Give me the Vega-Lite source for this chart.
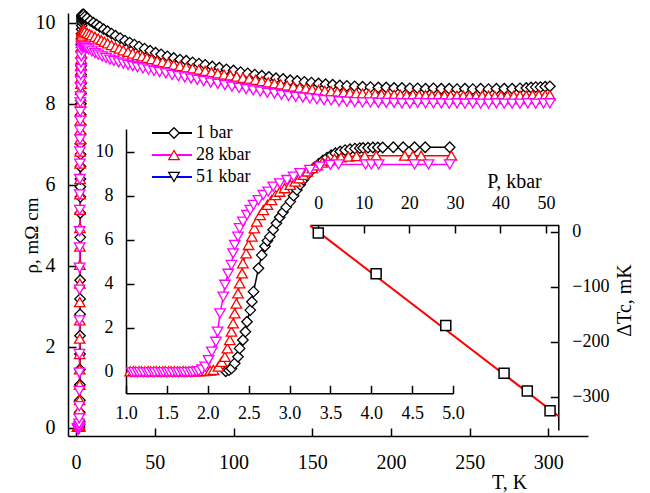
{
"$schema": "https://vega.github.io/schema/vega-lite/v6.json",
"width": 520, "height": 423,
"autosize": {"type": "none"},
"padding": {"left": 68, "top": 13, "right": 62, "bottom": 57},
"background": "white",
"config": {
 "view": {"stroke": null},
 "axis": {"grid": false, "domainColor": "black", "domainWidth": 1.5, "tickColor": "black", "tickWidth": 1.5, "labelFont": "Liberation Serif", "labelColor": "black", "labelFontSize": 18, "titleFont": "Liberation Serif", "titleColor": "black", "titleFontWeight": "normal", "titleFontSize": 20, "labelOverlap": false, "labelFlush": false},
 "legend": {"labelFont": "Liberation Serif", "labelFontSize": 18, "labelColor": "black", "padding": 0}
},
"datasets": {
 "rho": [
  {"s":"1 bar","T":2.22,"r":0.02},{"s":"1 bar","T":2.26,"r":0.07},{"s":"1 bar","T":2.29,"r":0.15},{"s":"1 bar","T":2.33,"r":0.38},{"s":"1 bar","T":2.37,"r":0.68},{"s":"1 bar","T":2.39,"r":1.06},{"s":"1 bar","T":2.43,"r":1.44},{"s":"1 bar","T":2.46,"r":1.82},{"s":"1 bar","T":2.48,"r":2.27},{"s":"1 bar","T":2.52,"r":2.8},{"s":"1 bar","T":2.54,"r":3.18},{"s":"1 bar","T":2.56,"r":3.64},{"s":"1 bar","T":2.62,"r":4.7},{"s":"1 bar","T":2.66,"r":5.3},{"s":"1 bar","T":2.7,"r":5.7},{"s":"1 bar","T":2.73,"r":5.95},{"s":"1 bar","T":2.76,"r":6.14},{"s":"1 bar","T":2.8,"r":6.45},{"s":"1 bar","T":2.84,"r":6.75},{"s":"1 bar","T":2.88,"r":7.02},{"s":"1 bar","T":2.92,"r":7.25},{"s":"1 bar","T":2.96,"r":7.48},{"s":"1 bar","T":3.01,"r":7.73},{"s":"1 bar","T":3.05,"r":8.0},{"s":"1 bar","T":3.09,"r":8.26},{"s":"1 bar","T":3.13,"r":8.5},{"s":"1 bar","T":3.17,"r":8.72},{"s":"1 bar","T":3.21,"r":8.93},{"s":"1 bar","T":3.26,"r":9.12},{"s":"1 bar","T":3.31,"r":9.3},{"s":"1 bar","T":3.36,"r":9.46},{"s":"1 bar","T":3.41,"r":9.6},{"s":"1 bar","T":3.46,"r":9.73},{"s":"1 bar","T":3.51,"r":9.84},{"s":"1 bar","T":3.56,"r":9.93},{"s":"1 bar","T":3.62,"r":10.01},{"s":"1 bar","T":3.68,"r":10.07},{"s":"1 bar","T":3.74,"r":10.11},{"s":"1 bar","T":3.8,"r":10.14},{"s":"1 bar","T":3.86,"r":10.16},{"s":"1 bar","T":3.9,"r":10.17},{"s":"1 bar","T":3.96,"r":10.18},{"s":"1 bar","T":4.02,"r":10.19},{"s":"1 bar","T":4.08,"r":10.19},{"s":"1 bar","T":4.14,"r":10.19},{"s":"1 bar","T":4.27,"r":10.2},{"s":"1 bar","T":4.39,"r":10.2},{"s":"1 bar","T":4.53,"r":10.2},{"s":"1 bar","T":4.66,"r":10.2},{"s":"1 bar","T":4.96,"r":10.2},
  {"s":"1 bar","T":5.5,"r":10.15},{"s":"1 bar","T":7,"r":10.11},{"s":"1 bar","T":9,"r":10.05},{"s":"1 bar","T":11,"r":10.0},{"s":"1 bar","T":13,"r":9.95},{"s":"1 bar","T":15,"r":9.9},{"s":"1 bar","T":17.5,"r":9.84},{"s":"1 bar","T":20,"r":9.79},{"s":"1 bar","T":22.5,"r":9.73},{"s":"1 bar","T":25,"r":9.68},{"s":"1 bar","T":28,"r":9.62},{"s":"1 bar","T":31,"r":9.56},{"s":"1 bar","T":34,"r":9.51},{"s":"1 bar","T":37,"r":9.46},{"s":"1 bar","T":40,"r":9.41},{"s":"1 bar","T":43.5,"r":9.36},{"s":"1 bar","T":47,"r":9.31},{"s":"1 bar","T":50.5,"r":9.26},{"s":"1 bar","T":54,"r":9.22},{"s":"1 bar","T":58,"r":9.17},{"s":"1 bar","T":62,"r":9.13},{"s":"1 bar","T":66,"r":9.09},{"s":"1 bar","T":70,"r":9.06},{"s":"1 bar","T":74,"r":9.02},{"s":"1 bar","T":78,"r":8.99},{"s":"1 bar","T":82,"r":8.96},{"s":"1 bar","T":86.5,"r":8.92},{"s":"1 bar","T":91,"r":8.89},{"s":"1 bar","T":95.5,"r":8.85},{"s":"1 bar","T":100,"r":8.82},{"s":"1 bar","T":104.5,"r":8.78},{"s":"1 bar","T":109,"r":8.75},{"s":"1 bar","T":113.5,"r":8.72},{"s":"1 bar","T":118,"r":8.69},{"s":"1 bar","T":122.5,"r":8.66},{"s":"1 bar","T":127,"r":8.63},{"s":"1 bar","T":131.5,"r":8.61},{"s":"1 bar","T":136,"r":8.58},{"s":"1 bar","T":140.5,"r":8.56},{"s":"1 bar","T":145,"r":8.54},{"s":"1 bar","T":149.5,"r":8.52},{"s":"1 bar","T":154,"r":8.5},{"s":"1 bar","T":158.5,"r":8.48},{"s":"1 bar","T":163,"r":8.47},{"s":"1 bar","T":167.5,"r":8.45},{"s":"1 bar","T":172,"r":8.44},{"s":"1 bar","T":177,"r":8.43},{"s":"1 bar","T":182,"r":8.42},{"s":"1 bar","T":187,"r":8.41},{"s":"1 bar","T":192,"r":8.4},{"s":"1 bar","T":197,"r":8.4},{"s":"1 bar","T":202,"r":8.39},{"s":"1 bar","T":207,"r":8.39},{"s":"1 bar","T":212,"r":8.38},{"s":"1 bar","T":217,"r":8.38},{"s":"1 bar","T":222,"r":8.37},{"s":"1 bar","T":227,"r":8.38},{"s":"1 bar","T":232,"r":8.37},{"s":"1 bar","T":237,"r":8.37},{"s":"1 bar","T":242,"r":8.36},{"s":"1 bar","T":247,"r":8.37},{"s":"1 bar","T":252,"r":8.36},{"s":"1 bar","T":257,"r":8.37},{"s":"1 bar","T":262,"r":8.36},{"s":"1 bar","T":267,"r":8.37},{"s":"1 bar","T":272,"r":8.37},{"s":"1 bar","T":277,"r":8.37},{"s":"1 bar","T":282,"r":8.38},{"s":"1 bar","T":286,"r":8.39},{"s":"1 bar","T":289,"r":8.4},{"s":"1 bar","T":292,"r":8.41},{"s":"1 bar","T":295,"r":8.41},{"s":"1 bar","T":298,"r":8.42},{"s":"1 bar","T":301,"r":8.43},
  {"s":"28 kbar","T":1.05,"r":0.02},{"s":"28 kbar","T":1.09,"r":0.03},{"s":"28 kbar","T":1.12,"r":0.02},{"s":"28 kbar","T":1.16,"r":0.03},{"s":"28 kbar","T":1.19,"r":0.02},{"s":"28 kbar","T":1.23,"r":0.02},{"s":"28 kbar","T":1.27,"r":0.03},{"s":"28 kbar","T":1.3,"r":0.02},{"s":"28 kbar","T":1.34,"r":0.02},{"s":"28 kbar","T":1.37,"r":0.03},{"s":"28 kbar","T":1.41,"r":0.02},{"s":"28 kbar","T":1.45,"r":0.02},{"s":"28 kbar","T":1.48,"r":0.03},{"s":"28 kbar","T":1.52,"r":0.02},{"s":"28 kbar","T":1.55,"r":0.02},{"s":"28 kbar","T":1.59,"r":0.03},{"s":"28 kbar","T":1.63,"r":0.02},{"s":"28 kbar","T":1.66,"r":0.02},{"s":"28 kbar","T":1.7,"r":0.03},{"s":"28 kbar","T":1.73,"r":0.02},{"s":"28 kbar","T":1.77,"r":0.02},{"s":"28 kbar","T":1.81,"r":0.03},{"s":"28 kbar","T":1.84,"r":0.02},{"s":"28 kbar","T":1.88,"r":0.02},{"s":"28 kbar","T":1.91,"r":0.03},{"s":"28 kbar","T":1.95,"r":0.03},{"s":"28 kbar","T":1.99,"r":0.04},{"s":"28 kbar","T":2.03,"r":0.05},
  {"s":"28 kbar","T":2.07,"r":0.08},{"s":"28 kbar","T":2.13,"r":0.23},{"s":"28 kbar","T":2.17,"r":0.45},{"s":"28 kbar","T":2.21,"r":0.68},{"s":"28 kbar","T":2.24,"r":1.06},{"s":"28 kbar","T":2.27,"r":1.44},{"s":"28 kbar","T":2.29,"r":1.82},{"s":"28 kbar","T":2.31,"r":2.2},{"s":"28 kbar","T":2.33,"r":2.65},{"s":"28 kbar","T":2.35,"r":3.1},{"s":"28 kbar","T":2.37,"r":3.56},{"s":"28 kbar","T":2.39,"r":4.02},{"s":"28 kbar","T":2.42,"r":4.47},{"s":"28 kbar","T":2.43,"r":4.93},{"s":"28 kbar","T":2.47,"r":5.38},{"s":"28 kbar","T":2.5,"r":5.76},{"s":"28 kbar","T":2.54,"r":6.14},{"s":"28 kbar","T":2.57,"r":6.52},{"s":"28 kbar","T":2.6,"r":6.82},{"s":"28 kbar","T":2.64,"r":7.12},{"s":"28 kbar","T":2.68,"r":7.35},{"s":"28 kbar","T":2.73,"r":7.58},{"s":"28 kbar","T":2.78,"r":7.8},{"s":"28 kbar","T":2.83,"r":8.03},{"s":"28 kbar","T":2.88,"r":8.18},{"s":"28 kbar","T":2.94,"r":8.34},{"s":"28 kbar","T":3.01,"r":8.49},{"s":"28 kbar","T":3.07,"r":8.64},{"s":"28 kbar","T":3.12,"r":8.79},{"s":"28 kbar","T":3.17,"r":8.95},{"s":"28 kbar","T":3.22,"r":9.1},{"s":"28 kbar","T":3.28,"r":9.25},{"s":"28 kbar","T":3.34,"r":9.38},{"s":"28 kbar","T":3.4,"r":9.5},{"s":"28 kbar","T":3.47,"r":9.6},{"s":"28 kbar","T":3.55,"r":9.68},{"s":"28 kbar","T":3.63,"r":9.74},{"s":"28 kbar","T":3.72,"r":9.78},{"s":"28 kbar","T":3.82,"r":9.8},{"s":"28 kbar","T":3.92,"r":9.81},{"s":"28 kbar","T":4.06,"r":9.82},{"s":"28 kbar","T":4.41,"r":9.82},{"s":"28 kbar","T":4.51,"r":9.82},{"s":"28 kbar","T":4.61,"r":9.82},{"s":"28 kbar","T":4.98,"r":9.82},
  {"s":"28 kbar","T":5.5,"r":9.78},{"s":"28 kbar","T":7,"r":9.75},{"s":"28 kbar","T":8.5,"r":9.72},{"s":"28 kbar","T":10,"r":9.69},{"s":"28 kbar","T":12,"r":9.65},{"s":"28 kbar","T":14,"r":9.61},{"s":"28 kbar","T":16,"r":9.57},{"s":"28 kbar","T":18,"r":9.53},{"s":"28 kbar","T":20,"r":9.49},{"s":"28 kbar","T":22.5,"r":9.45},{"s":"28 kbar","T":25,"r":9.4},{"s":"28 kbar","T":27.5,"r":9.36},{"s":"28 kbar","T":30,"r":9.32},{"s":"28 kbar","T":33,"r":9.28},{"s":"28 kbar","T":36,"r":9.24},{"s":"28 kbar","T":39,"r":9.2},{"s":"28 kbar","T":42,"r":9.17},{"s":"28 kbar","T":45,"r":9.13},{"s":"28 kbar","T":48,"r":9.1},{"s":"28 kbar","T":51.5,"r":9.06},{"s":"28 kbar","T":55,"r":9.03},{"s":"28 kbar","T":58.5,"r":9.0},{"s":"28 kbar","T":62,"r":8.96},{"s":"28 kbar","T":66,"r":8.93},{"s":"28 kbar","T":70,"r":8.9},{"s":"28 kbar","T":74,"r":8.87},{"s":"28 kbar","T":78,"r":8.84},{"s":"28 kbar","T":82,"r":8.81},{"s":"28 kbar","T":86,"r":8.78},{"s":"28 kbar","T":90,"r":8.75},{"s":"28 kbar","T":94,"r":8.72},{"s":"28 kbar","T":98,"r":8.7},{"s":"28 kbar","T":102,"r":8.67},{"s":"28 kbar","T":106,"r":8.64},{"s":"28 kbar","T":110,"r":8.62},{"s":"28 kbar","T":114,"r":8.59},{"s":"28 kbar","T":118,"r":8.56},{"s":"28 kbar","T":122,"r":8.53},{"s":"28 kbar","T":126,"r":8.5},{"s":"28 kbar","T":130,"r":8.48},{"s":"28 kbar","T":134,"r":8.45},{"s":"28 kbar","T":138,"r":8.42},{"s":"28 kbar","T":142,"r":8.4},{"s":"28 kbar","T":146,"r":8.38},{"s":"28 kbar","T":150,"r":8.36},{"s":"28 kbar","T":154,"r":8.34},{"s":"28 kbar","T":158,"r":8.32},{"s":"28 kbar","T":162,"r":8.31},{"s":"28 kbar","T":166,"r":8.29},{"s":"28 kbar","T":170,"r":8.28},{"s":"28 kbar","T":174,"r":8.27},{"s":"28 kbar","T":178,"r":8.26},{"s":"28 kbar","T":182,"r":8.25},{"s":"28 kbar","T":186,"r":8.24},{"s":"28 kbar","T":190,"r":8.24},{"s":"28 kbar","T":194,"r":8.23},{"s":"28 kbar","T":198,"r":8.23},{"s":"28 kbar","T":202,"r":8.22},{"s":"28 kbar","T":206,"r":8.22},{"s":"28 kbar","T":210,"r":8.21},{"s":"28 kbar","T":214,"r":8.22},{"s":"28 kbar","T":218,"r":8.21},{"s":"28 kbar","T":222,"r":8.21},{"s":"28 kbar","T":226,"r":8.2},{"s":"28 kbar","T":230,"r":8.21},{"s":"28 kbar","T":234,"r":8.2},{"s":"28 kbar","T":238,"r":8.2},{"s":"28 kbar","T":242,"r":8.2},{"s":"28 kbar","T":246,"r":8.2},{"s":"28 kbar","T":250,"r":8.2},{"s":"28 kbar","T":254,"r":8.19},{"s":"28 kbar","T":258,"r":8.2},{"s":"28 kbar","T":262,"r":8.2},{"s":"28 kbar","T":266,"r":8.19},{"s":"28 kbar","T":270,"r":8.2},{"s":"28 kbar","T":274,"r":8.2},{"s":"28 kbar","T":278,"r":8.2},{"s":"28 kbar","T":282,"r":8.2},{"s":"28 kbar","T":286,"r":8.2},{"s":"28 kbar","T":290,"r":8.21},{"s":"28 kbar","T":294,"r":8.21},{"s":"28 kbar","T":298,"r":8.21},{"s":"28 kbar","T":301,"r":8.21},
  {"s":"51 kbar","T":1.07,"r":-0.03},{"s":"51 kbar","T":1.1,"r":-0.02},{"s":"51 kbar","T":1.14,"r":-0.03},{"s":"51 kbar","T":1.17,"r":-0.02},{"s":"51 kbar","T":1.21,"r":-0.03},{"s":"51 kbar","T":1.25,"r":-0.02},{"s":"51 kbar","T":1.28,"r":-0.03},{"s":"51 kbar","T":1.32,"r":-0.02},{"s":"51 kbar","T":1.35,"r":-0.03},{"s":"51 kbar","T":1.39,"r":-0.02},{"s":"51 kbar","T":1.43,"r":-0.03},{"s":"51 kbar","T":1.46,"r":-0.02},{"s":"51 kbar","T":1.5,"r":-0.03},{"s":"51 kbar","T":1.53,"r":-0.02},{"s":"51 kbar","T":1.57,"r":-0.03},{"s":"51 kbar","T":1.61,"r":-0.02},{"s":"51 kbar","T":1.64,"r":-0.03},{"s":"51 kbar","T":1.68,"r":-0.02},{"s":"51 kbar","T":1.71,"r":-0.03},{"s":"51 kbar","T":1.75,"r":-0.02},{"s":"51 kbar","T":1.79,"r":-0.02},{"s":"51 kbar","T":1.82,"r":-0.01},{"s":"51 kbar","T":1.86,"r":0.0},{"s":"51 kbar","T":1.89,"r":0.03},
  {"s":"51 kbar","T":1.93,"r":0.1},{"s":"51 kbar","T":1.97,"r":0.23},{"s":"51 kbar","T":2.01,"r":0.53},{"s":"51 kbar","T":2.05,"r":0.91},{"s":"51 kbar","T":2.1,"r":1.36},{"s":"51 kbar","T":2.12,"r":1.82},{"s":"51 kbar","T":2.15,"r":2.65},{"s":"51 kbar","T":2.19,"r":3.41},{"s":"51 kbar","T":2.21,"r":3.95},{"s":"51 kbar","T":2.25,"r":4.45},{"s":"51 kbar","T":2.29,"r":4.85},{"s":"51 kbar","T":2.31,"r":5.38},{"s":"51 kbar","T":2.33,"r":5.76},{"s":"51 kbar","T":2.37,"r":6.14},{"s":"51 kbar","T":2.39,"r":6.52},{"s":"51 kbar","T":2.43,"r":6.82},{"s":"51 kbar","T":2.48,"r":7.12},{"s":"51 kbar","T":2.52,"r":7.35},{"s":"51 kbar","T":2.56,"r":7.58},{"s":"51 kbar","T":2.62,"r":7.8},{"s":"51 kbar","T":2.68,"r":8.03},{"s":"51 kbar","T":2.74,"r":8.18},{"s":"51 kbar","T":2.8,"r":8.41},{"s":"51 kbar","T":2.88,"r":8.56},{"s":"51 kbar","T":2.97,"r":8.71},{"s":"51 kbar","T":3.05,"r":8.86},{"s":"51 kbar","T":3.13,"r":9.02},{"s":"51 kbar","T":3.25,"r":9.17},{"s":"51 kbar","T":3.37,"r":9.32},{"s":"51 kbar","T":3.5,"r":9.4},{"s":"51 kbar","T":3.6,"r":9.42},{"s":"51 kbar","T":3.93,"r":9.42},{"s":"51 kbar","T":4.0,"r":9.42},{"s":"51 kbar","T":4.09,"r":9.42},{"s":"51 kbar","T":4.53,"r":9.42},{"s":"51 kbar","T":4.7,"r":9.42},{"s":"51 kbar","T":4.96,"r":9.42},
  {"s":"51 kbar","T":5.5,"r":9.41},{"s":"51 kbar","T":6.5,"r":9.38},{"s":"51 kbar","T":8,"r":9.34},{"s":"51 kbar","T":10,"r":9.29},{"s":"51 kbar","T":12,"r":9.25},{"s":"51 kbar","T":14,"r":9.21},{"s":"51 kbar","T":16.5,"r":9.17},{"s":"51 kbar","T":19,"r":9.13},{"s":"51 kbar","T":21.5,"r":9.09},{"s":"51 kbar","T":24,"r":9.06},{"s":"51 kbar","T":27,"r":9.02},{"s":"51 kbar","T":30,"r":8.99},{"s":"51 kbar","T":33,"r":8.96},{"s":"51 kbar","T":36,"r":8.93},{"s":"51 kbar","T":39,"r":8.9},{"s":"51 kbar","T":42.5,"r":8.87},{"s":"51 kbar","T":46,"r":8.84},{"s":"51 kbar","T":49.5,"r":8.81},{"s":"51 kbar","T":53,"r":8.78},{"s":"51 kbar","T":57,"r":8.75},{"s":"51 kbar","T":61,"r":8.71},{"s":"51 kbar","T":65,"r":8.68},{"s":"51 kbar","T":69,"r":8.65},{"s":"51 kbar","T":73,"r":8.62},{"s":"51 kbar","T":77,"r":8.59},{"s":"51 kbar","T":81,"r":8.56},{"s":"51 kbar","T":85.5,"r":8.52},{"s":"51 kbar","T":90,"r":8.49},{"s":"51 kbar","T":94.5,"r":8.46},{"s":"51 kbar","T":99,"r":8.42},{"s":"51 kbar","T":103.5,"r":8.39},{"s":"51 kbar","T":108,"r":8.36},{"s":"51 kbar","T":112.5,"r":8.33},{"s":"51 kbar","T":117,"r":8.3},{"s":"51 kbar","T":121.5,"r":8.27},{"s":"51 kbar","T":126,"r":8.25},{"s":"51 kbar","T":130.5,"r":8.22},{"s":"51 kbar","T":135,"r":8.19},{"s":"51 kbar","T":139.5,"r":8.17},{"s":"51 kbar","T":144,"r":8.15},{"s":"51 kbar","T":148.5,"r":8.13},{"s":"51 kbar","T":153,"r":8.11},{"s":"51 kbar","T":157.5,"r":8.09},{"s":"51 kbar","T":162,"r":8.08},{"s":"51 kbar","T":167,"r":8.06},{"s":"51 kbar","T":172,"r":8.05},{"s":"51 kbar","T":177,"r":8.04},{"s":"51 kbar","T":182,"r":8.03},{"s":"51 kbar","T":187,"r":8.03},{"s":"51 kbar","T":192,"r":8.02},{"s":"51 kbar","T":197,"r":8.02},{"s":"51 kbar","T":202,"r":8.02},{"s":"51 kbar","T":207,"r":8.01},{"s":"51 kbar","T":212,"r":8.01},{"s":"51 kbar","T":217,"r":8.02},{"s":"51 kbar","T":222,"r":8.01},{"s":"51 kbar","T":227,"r":8.01},{"s":"51 kbar","T":232,"r":8.01},{"s":"51 kbar","T":237,"r":8.0},{"s":"51 kbar","T":242,"r":8.01},{"s":"51 kbar","T":247,"r":8.0},{"s":"51 kbar","T":252,"r":8.01},{"s":"51 kbar","T":257,"r":8.0},{"s":"51 kbar","T":262,"r":8.0},{"s":"51 kbar","T":267,"r":8.01},{"s":"51 kbar","T":272,"r":8.0},{"s":"51 kbar","T":277,"r":8.0},{"s":"51 kbar","T":282,"r":8.0},{"s":"51 kbar","T":287,"r":8.01},{"s":"51 kbar","T":292,"r":8.0},{"s":"51 kbar","T":297,"r":8.01},{"s":"51 kbar","T":301,"r":8.01}
 ],
 "dtc": [{"P":0,"d":-2},{"P":12.7,"d":-76},{"P":28,"d":-170},{"P":40.8,"d":-257},{"P":45.9,"d":-289},{"P":50.9,"d":-325}],
 "fit": [{"P":-1.8,"d":11.5},{"P":52.8,"d":-335}]
},
"resolve": {"scale": {"x": "independent", "y": "independent"}, "axis": {"x": "independent", "y": "independent"}},
"layer": [
 {
  "data": {"name": "rho"},
  "layer": [
   {"transform": [{"filter": "datum.s === '1 bar'"}],
    "mark": {"type": "line", "strokeWidth": 1.5, "stroke": "#000000"},
    "encoding": {
     "x": {"field": "T", "type": "quantitative", "scale": {"domain": [-5.15, 325.2], "nice": false, "zero": false},
       "axis": {"orient": "bottom", "values": [0,50,100,150,200,250,300], "tickSize": -8, "labelPadding": 24, "labelFontSize": 20, "title": "T, K", "titleX": 441, "titleY": 52, "titleAlign": "center", "titleBaseline": "alphabetic"}},
     "y": {"field": "r", "type": "quantitative", "scale": {"domain": [-0.205, 10.24], "nice": false, "zero": false},
       "axis": {"orient": "left", "values": [0,2,4,6,8,10], "tickSize": -8, "labelPadding": 21, "labelFontSize": 20, "title": "ρ, mΩ cm", "titleFontSize": 19, "titleX": -31, "titleY": 222, "titleAngle": -90, "titleAlign": "center", "titleBaseline": "alphabetic"}}
    }},
   {"transform": [{"filter": "datum.s === '28 kbar'"}],
    "mark": {"type": "line", "strokeWidth": 1.5, "stroke": "#ff0000"},
    "encoding": {"x": {"field": "T", "type": "quantitative"}, "y": {"field": "r", "type": "quantitative"}}},
   {"transform": [{"filter": "datum.s === '51 kbar'"}],
    "mark": {"type": "line", "strokeWidth": 1.5, "stroke": "#ff00ff"},
    "encoding": {"x": {"field": "T", "type": "quantitative"}, "y": {"field": "r", "type": "quantitative"}}},
   {"transform": [{"filter": "datum.s === '1 bar'"}],
    "mark": {"type": "point", "shape": "diamond", "stroke": "#000000", "fill": "white", "opacity": 1, "fillOpacity": 1, "strokeWidth": 1.3, "size": 110},
    "encoding": {"x": {"field": "T", "type": "quantitative"}, "y": {"field": "r", "type": "quantitative"}}},
   {"transform": [{"filter": "datum.s === '28 kbar'"}],
    "mark": {"type": "point", "shape": "triangle-up", "stroke": "#ff0000", "fill": "white", "opacity": 1, "fillOpacity": 1, "strokeWidth": 1.3, "size": 110},
    "encoding": {"x": {"field": "T", "type": "quantitative"}, "y": {"field": "r", "type": "quantitative"}}},
   {"transform": [{"filter": "datum.s === '51 kbar'"}],
    "mark": {"type": "point", "shape": "triangle-down", "stroke": "#ff00ff", "fill": "white", "opacity": 1, "fillOpacity": 1, "strokeWidth": 1.3, "size": 110},
    "encoding": {"x": {"field": "T", "type": "quantitative"}, "y": {"field": "r", "type": "quantitative"}}}
  ]
 },
 {
  "data": {"name": "rho"},
  "transform": [{"filter": "datum.T <= 5.01"}],
  "layer": [
   {"transform": [{"filter": "datum.s === '1 bar'"}],
    "mark": {"type": "line", "strokeWidth": 1.5, "stroke": "#000000"},
    "encoding": {
     "x": {"field": "T", "type": "quantitative", "scale": {"domain": [1, 5], "range": [58, 385], "nice": false, "zero": false},
       "axis": {"orient": "bottom", "offset": -42.7, "values": [1,1.5,2,2.5,3,3.5,4,4.5,5], "format": ".1f", "tickSize": -8, "labelPadding": 19, "title": null}},
     "y": {"field": "r", "type": "quantitative", "scale": {"domain": [-0.98, 11.03], "range": [380.3, 116], "nice": false, "zero": false},
       "axis": {"orient": "left", "offset": -58, "values": [0,2,4,6,8,10], "tickSize": -8, "labelPadding": 21, "title": null}}
    }},
   {"transform": [{"filter": "datum.s === '28 kbar'"}],
    "mark": {"type": "line", "strokeWidth": 1.5, "stroke": "#ff0000"},
    "encoding": {"x": {"field": "T", "type": "quantitative"}, "y": {"field": "r", "type": "quantitative"}}},
   {"transform": [{"filter": "datum.s === '51 kbar'"}],
    "mark": {"type": "line", "strokeWidth": 1.5, "stroke": "#ff00ff"},
    "encoding": {"x": {"field": "T", "type": "quantitative"}, "y": {"field": "r", "type": "quantitative"}}},
   {"transform": [{"filter": "datum.s === '1 bar'"}],
    "mark": {"type": "point", "shape": "diamond", "stroke": "#000000", "fill": "white", "opacity": 1, "fillOpacity": 1, "strokeWidth": 1.3, "size": 110},
    "encoding": {"x": {"field": "T", "type": "quantitative"}, "y": {"field": "r", "type": "quantitative"}}},
   {"transform": [{"filter": "datum.s === '28 kbar'"}],
    "mark": {"type": "point", "shape": "triangle-up", "stroke": "#ff0000", "fill": "white", "opacity": 1, "fillOpacity": 1, "strokeWidth": 1.3, "size": 110},
    "encoding": {"x": {"field": "T", "type": "quantitative"}, "y": {"field": "r", "type": "quantitative"}}},
   {"transform": [{"filter": "datum.s === '51 kbar'"}],
    "mark": {"type": "point", "shape": "triangle-down", "stroke": "#ff00ff", "fill": "white", "opacity": 1, "fillOpacity": 1, "strokeWidth": 1.3, "size": 110},
    "encoding": {"x": {"field": "T", "type": "quantitative"}, "y": {"field": "r", "type": "quantitative"}}},
   {"transform": [{"filter": "datum.T > 1000"}],
    "mark": {"type": "line"},
    "encoding": {
     "x": {"field": "T", "type": "quantitative"},
     "y": {"field": "r", "type": "quantitative"},
     "stroke": {"field": "s", "type": "nominal", "scale": {"domain": ["1 bar","28 kbar","51 kbar"], "range": ["#000000","#ff00ff","#0000ff"]},
       "legend": {"orient": "none", "legendX": 83, "legendY": 111, "title": null, "padding": 0, "rowPadding": 4, "clipHeight": 18, "symbolType": "stroke", "symbolSize": 1600, "symbolStrokeWidth": 2, "labelFont": "Liberation Serif", "labelFontSize": 18, "labelColor": "black", "labelOffset": 3, "zindex": 1}}
    }},
   {"transform": [{"filter": "datum.T > 1000"}],
    "mark": {"type": "point", "fill": "white", "filled": false, "opacity": 1},
    "encoding": {
     "x": {"field": "T", "type": "quantitative"},
     "y": {"field": "r", "type": "quantitative"},
     "shape": {"field": "s", "type": "nominal", "scale": {"domain": ["m1","m28","m51"], "range": ["diamond","triangle-up","triangle-down"]},
       "legend": {"orient": "none", "legendX": 97, "legendY": 111, "title": null, "padding": 0, "rowPadding": 4, "clipHeight": 18, "symbolSize": 110, "symbolStrokeWidth": 1.3, "symbolFillColor": "white", "symbolOpacity": 1, "labelExpr": "''", "labelFontSize": 18, "zindex": 2}},
     "color": {"field": "s", "type": "nominal", "scale": {"domain": ["m1","m28","m51"], "range": ["#000000","#ff0000","#000000"]},
       "legend": {"orient": "none", "legendX": 97, "legendY": 111, "title": null, "padding": 0, "rowPadding": 4, "clipHeight": 18, "symbolSize": 110, "symbolStrokeWidth": 1.3, "symbolFillColor": "white", "symbolOpacity": 1, "labelExpr": "''", "labelFontSize": 18, "zindex": 2}}
    }}
  ]
 },
 {
  "layer": [
   {"data": {"name": "fit"},
    "mark": {"type": "line", "color": "#ff0000", "strokeWidth": 2},
    "encoding": {
     "x": {"field": "P", "type": "quantitative", "scale": {"domain": [-1.8, 52.8], "range": [242.1, 490.7], "nice": false, "zero": false},
       "axis": {"orient": "top", "offset": -212, "values": [0,10,20,30,40,50], "tickSize": -8, "labelPadding": 21, "title": "P, kbar", "titleX": 446, "titleY": -38, "titleAlign": "center", "titleBaseline": "alphabetic", "titleAngle": 0}},
     "y": {"field": "d", "type": "quantitative", "scale": {"domain": [-360, 12.7], "range": [417, 212], "nice": false, "zero": false},
       "axis": {"orient": "right", "offset": -29.7, "values": [0,-100,-200,-300], "tickSize": -8, "labelPadding": 21.5, "title": "ΔTc, mK", "titleX": 72, "titleY": 287, "titleAngle": -90, "titleAlign": "center", "titleBaseline": "alphabetic"}}
    }},
   {"data": {"name": "dtc"},
    "mark": {"type": "point", "shape": "square", "fill": "white", "stroke": "black", "opacity": 1, "fillOpacity": 1, "strokeWidth": 1.5, "size": 100},
    "encoding": {
     "x": {"field": "P", "type": "quantitative"},
     "y": {"field": "d", "type": "quantitative"}
    }}
  ]
 }
]
}
